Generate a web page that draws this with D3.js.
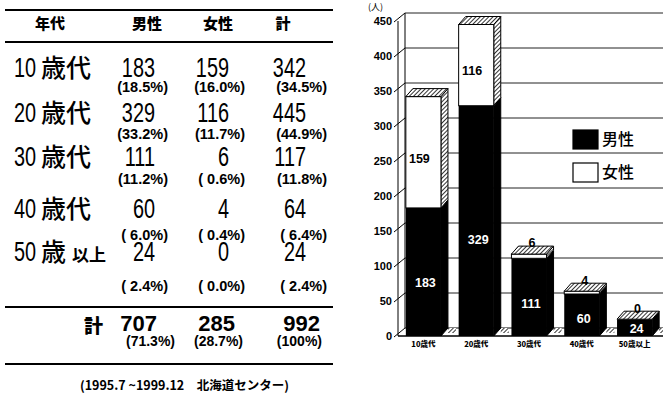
<!DOCTYPE html>
<html><head><meta charset="utf-8">
<script src="https://cdn.jsdelivr.net/npm/d3@7"></script>
<style>
html,body{margin:0;padding:0;background:#fff;}
svg{display:block;}
text{font-family:"Liberation Sans",Arial,"Noto Sans CJK JP",sans-serif;}
.jp{font-family:"Noto Sans CJK JP","Liberation Sans",sans-serif;}
</style>
</head><body>
<script>
// ---- data ----
const categories = ["10歳代","20歳代","30歳代","40歳代","50歳以上"];
const ageNums = ["10","20","30","40","50"];
const ageKanji = ["歳代","歳代","歳代","歳代","歳"];
const ageSmall = ["","","","","以上"];
const male = [183,329,111,60,24];
const female = [159,116,6,4,0];
const total = [342,445,117,64,24];
const malePct = [18.5,33.2,11.2,6.0,2.4];
const femalePct = [16.0,11.7,0.6,0.4,0.0];
const totalPct = [34.5,44.9,11.8,6.4,2.4];
const sums = [707,285,992];
const sumPct = [71.3,28.7,100];
const headers = ["年代","男性","女性","計"];
const sumLabel = "計";
const yTicks = [0,50,100,150,200,250,300,350,400,450];
const legendLabels = ["男性","女性"];
const unitLabel = "(人)";
const footnote = "(1995.7 ~1999.12　北海道センター)";

const W = 663, H = 396;
const svg = d3.select("body").append("svg").attr("width",W).attr("height",H);
svg.append("rect").attr("width",W).attr("height",H).attr("fill","#fff");

const defs = svg.append("defs");
const pat = defs.append("pattern").attr("id","hatch").attr("patternUnits","userSpaceOnUse")
  .attr("width",3).attr("height",3).attr("patternTransform","rotate(45)");
pat.append("rect").attr("width",3).attr("height",3).attr("fill","#fff");
pat.append("line").attr("x1",0).attr("y1",0).attr("x2",0).attr("y2",3).attr("stroke","#000").attr("stroke-width",1.6);

function fmtPct(v){
  if (v === 100) return "(100%)";
  return v < 10 ? "( " + v.toFixed(1) + "%)" : "(" + v.toFixed(1) + "%)";
}

// ---------------- TABLE ----------------
const T = svg.append("g");
const rule = (y,w) => T.append("line").attr("x1",5).attr("x2",333).attr("y1",y).attr("y2",y).attr("stroke","#000").attr("stroke-width",w);
rule(10,2); rule(42,2); rule(307,2); rule(364,2);

const headX = [50,147,218,283];
headers.forEach((h,i)=>{
  T.append("text").attr("class","jp").attr("x",headX[i]).attr("y",29).attr("text-anchor","middle")
   .attr("font-size",15).attr("font-weight",900).text(h);
});

const numY = [77,122,166,218,261];
const pctY = [92,139,184,240,291];
const numRight = [155,229,306];
const pctRight = [168,245,327];
function condensed(x,y,txt,anchor,size){
  T.append("text").attr("transform",`translate(${x},${y}) scale(0.71,1)`)
   .attr("text-anchor",anchor).attr("font-size",size).text(txt);
}
ageNums.forEach((a,i)=>{
  condensed(14,numY[i],a,"start",28);
  T.append("text").attr("class","jp").attr("x",41).attr("y",numY[i]).attr("font-size",25).attr("font-weight",500).text(ageKanji[i]);
  if (ageSmall[i]) T.append("text").attr("class","jp").attr("x",72).attr("y",numY[i]).attr("font-size",17).attr("font-weight",700).text(ageSmall[i]);
  [male[i],female[i],total[i]].forEach((v,j)=>condensed(numRight[j],numY[i],String(v),"end",28));
  [malePct[i],femalePct[i],totalPct[i]].forEach((v,j)=>{
    T.append("text").attr("x",pctRight[j]).attr("y",pctY[i]).attr("text-anchor","end")
     .attr("font-size",14.5).attr("font-weight",700).attr("xml:space","preserve").text(fmtPct(v));
  });
});
// totals row
T.append("text").attr("class","jp").attr("x",84).attr("y",333).attr("font-size",19).attr("font-weight",900).text(sumLabel);
const sumRight = [157,235,320];
const sumPctRight = [175,243,322];
sums.forEach((v,j)=>{
  T.append("text").attr("x",sumRight[j]).attr("y",331).attr("text-anchor","end").attr("font-size",22).attr("font-weight",700).text(String(v));
  T.append("text").attr("x",sumPctRight[j]).attr("y",346).attr("text-anchor","end").attr("font-size",14).attr("font-weight",700).text(fmtPct(sumPct[j]));
});
T.append("text").attr("class","jp").attr("x",80).attr("y",390).attr("font-size",12.5).attr("font-weight",700).text(footnote);

// ---------------- CHART ----------------
const C = svg.append("g");
const y = d3.scaleLinear().domain([0,450]).range([336,21]);
const x = d3.scaleBand().domain(categories).range([397,661]).paddingInner(0.335).paddingOuter(0.1675);
const dx = 7, dy = -8;
const axX = 398;

// back wall gridlines
C.selectAll("line.grid").data(yTicks.filter(t=>t>0)).join("line").attr("class","grid")
  .attr("x1",axX+dx).attr("x2",W).attr("y1",d=>y(d)+dy).attr("y2",d=>y(d)+dy)
  .attr("stroke","#222").attr("stroke-width",1);
C.append("line").attr("x1",axX+dx).attr("x2",axX+dx).attr("y1",y(450)+dy).attr("y2",y(0)+dy).attr("stroke","#000");
C.append("line").attr("x1",axX+dx).attr("x2",W).attr("y1",y(0)+dy).attr("y2",y(0)+dy).attr("stroke","#000");
// front axis
C.append("line").attr("x1",axX).attr("x2",axX).attr("y1",y(450)).attr("y2",y(0)).attr("stroke","#000");
C.selectAll("line.tk").data(yTicks).join("line").attr("class","tk")
  .attr("x1",axX-4).attr("x2",axX+dx).attr("y1",d=>y(d)+1).attr("y2",d=>y(d)+dy).attr("stroke","#000");
C.selectAll("text.yt").data(yTicks).join("text").attr("class","yt")
  .attr("x",392).attr("y",d=>y(d)+4).attr("text-anchor","end").attr("font-size",11).attr("font-weight",900)
  .text(d=>d);
C.append("text").attr("class","jp").attr("x",368).attr("y",10).attr("font-size",9).text(unitLabel);

// legend
const lg = C.append("g");
legendLabels.forEach((l,i)=>{
  const ly = 130 + i*33;
  lg.append("rect").attr("x",573).attr("y",ly).attr("width",25).attr("height",19)
    .attr("fill", i===0 ? "#000" : "#fff").attr("stroke","#000").attr("stroke-width",1.2);
  lg.append("text").attr("class","jp").attr("x",602).attr("y",ly+15).attr("font-size",16).attr("font-weight",500).text(l);
});

// bars
const bw = x.bandwidth();
categories.forEach((c,i)=>{
  const x0 = x(c), x1 = x0 + bw;
  const y0 = y(0), yM = y(male[i]), yT = y(total[i]);
  const g = C.append("g");
  const poly = pts => pts.map(p=>p.join(",")).join(" ");
  // floor shadow
  g.append("polygon").attr("points",poly([[x1+dx,y0-3],[x1+dx+8,y0-3],[x1+dx+8,y0+dy],[x1+dx,y0+dy]]))
    .attr("fill","url(#hatch)");
  // male
  g.append("polygon").attr("points",poly([[x1,yM],[x1+dx,yM+dy],[x1+dx,y0+dy],[x1,y0]])).attr("fill","#000").attr("stroke","#000");
  g.append("rect").attr("x",x0).attr("y",yM).attr("width",bw).attr("height",y0-yM).attr("fill","#000");
  // female
  if (yM - yT > 0) {
    g.append("polygon").attr("points",poly([[x1,yT],[x1+dx,yT+dy],[x1+dx,yM+dy],[x1,yM]]))
      .attr("fill","url(#hatch)").attr("stroke","#000").attr("stroke-width",1);
    g.append("rect").attr("x",x0).attr("y",yT).attr("width",bw).attr("height",yM-yT)
      .attr("fill","#fff").attr("stroke","#000").attr("stroke-width",1);
  }
  // top
  g.append("polygon").attr("points",poly([[x0,yT],[x0+dx,yT+dy],[x1+dx,yT+dy],[x1,yT]]))
    .attr("fill","url(#hatch)").attr("stroke","#000").attr("stroke-width",1);
  // labels
  g.append("text").attr("x",x0+bw/2+2).attr("y",y(male[i]*0.42)).attr("dy","0.35em")
    .attr("text-anchor","middle").attr("fill","#fff").attr("font-size",12.5).attr("font-weight",700).text(male[i]);
  if (yM - yT > 30) {
    g.append("text").attr("x",x0+bw/2-4).attr("y",(yM+yT)/2+6).attr("dy","0.35em")
      .attr("text-anchor","middle").attr("fill","#000").attr("font-size",12.5).attr("font-weight",700).text(female[i]);
  } else {
    g.append("text").attr("x",x0+bw/2+3).attr("y",yT+dy-3).attr("dy","0.35em")
      .attr("text-anchor","middle").attr("fill","#000").attr("font-size",12.5).attr("font-weight",700).text(female[i]);
  }
  // category label
  C.append("text").attr("class","jp").attr("x",x0+bw/2).attr("y",347).attr("text-anchor","middle")
    .attr("font-size",7.5).attr("font-weight",900).text(c);
});
// front floor line
C.append("line").attr("x1",axX).attr("x2",W).attr("y1",y(0)).attr("y2",y(0)).attr("stroke","#000").attr("stroke-width",1.5);
</script>
</body></html>
